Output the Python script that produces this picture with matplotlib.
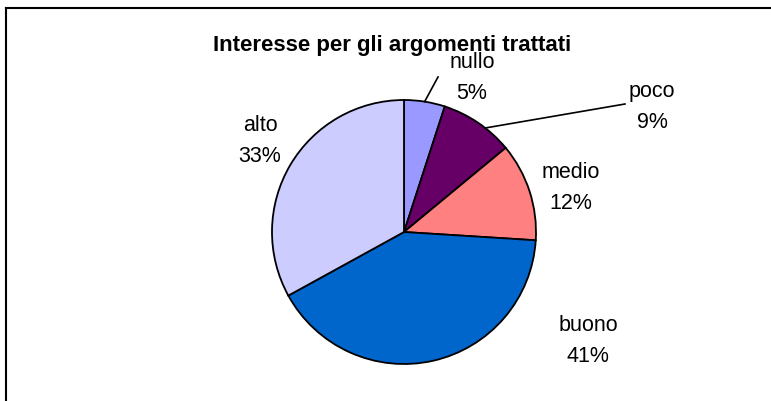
import matplotlib
matplotlib.use("Agg")
import matplotlib.pyplot as plt
from matplotlib.lines import Line2D
import numpy as np

categories = ["nullo", "poco", "medio", "buono", "alto"]
values = [5, 9, 12, 41, 33]
colors = ["#9999FF", "#660066", "#FF8080", "#0066CC", "#CCCCFF"]
title = "Interesse per gli argomenti trattati"

W, H = 771, 402
fig = plt.figure(figsize=(W / 100, H / 100), dpi=100)
ax = fig.add_axes([0, 0, 1, 1])

cx, cy, r = 404, H - 233, 132
wedges, _ = ax.pie(values, colors=colors, startangle=90, counterclock=False,
                   center=(cx, cy), radius=r, frame=True,
                   wedgeprops=dict(edgecolor="black", linewidth=1.3))
ax.set_xlim(0, W)
ax.set_ylim(0, H)
ax.set_aspect("equal")
ax.axis("off")

# label positions (centre of the two-line label), pixels from top-left
label_pos = {"nullo": (472, 78), "poco": (652, 107), "medio": (571, 188),
             "buono": (588, 341), "alto": (260, 141)}
leader_end = {"nullo": (438, 78), "poco": (625, 105)}
leader_angle = {"nullo": None, "poco": 52}

lab_font = dict(family=["Liberation Sans", "DejaVu Sans"], fontsize=15.5)
for w, cat, v in zip(wedges, categories, values):
    x, y = label_pos[cat]
    ax.text(x, H - y, f"{cat}\n{v}%", ha="center", va="center",
            linespacing=1.58, **lab_font)
    if cat in leader_end:
        a = leader_angle[cat]
        mid = np.deg2rad(a if a is not None else (w.theta1 + w.theta2) / 2)
        sx, sy = cx + r * np.cos(mid), cy + r * np.sin(mid)
        ex, ey = leader_end[cat]
        ax.plot([sx, ex], [sy, H - ey], color="black", lw=1.2)

fig.text(392 / W, 1 - 45 / H, title, ha="center", va="center",
         fontsize=16, fontweight="bold",
         family=["Liberation Sans", "DejaVu Sans"])

# chart frame (top and left edges)
fig.add_artist(Line2D([6 / W, 1], [1 - 9 / H, 1 - 9 / H], color="black",
                      lw=1.5, transform=fig.transFigure))
fig.add_artist(Line2D([6 / W, 6 / W], [0, 1 - 9 / H], color="black",
                      lw=1.5, transform=fig.transFigure))

fig.savefig("out.png", dpi=100, facecolor="white")
